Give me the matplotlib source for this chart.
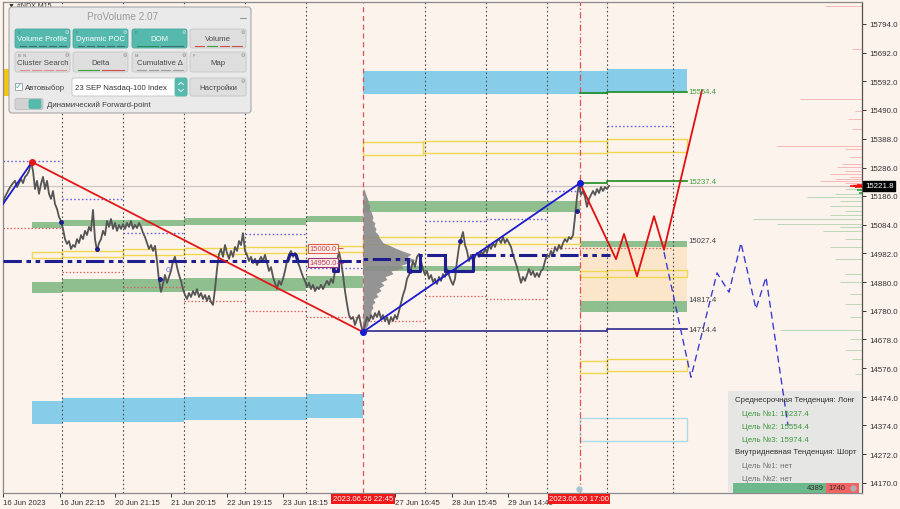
import matplotlib
matplotlib.use("Agg")
import matplotlib.pyplot as plt
import numpy as np
import matplotlib.transforms as mtransforms
from matplotlib.patches import Rectangle, FancyBboxPatch

plt.rcParams['font.family'] = ['Liberation Sans', 'DejaVu Sans']

BG = '#FDF3ED'
TEAL = '#56B9AE'

# ---------------- data ----------------
# M15 price path, sampled every 2 time slots starting at slot 3
price_start = 3
price_step = 2
price = [
    15164, 15182, 15196, 15210, 15221, 15231, 15239, 15217, 15231, 15246, 15231, 15253, 15260, 15274, 15306,
    15274, 15210, 15239, 15193, 15228, 15253, 15210, 15239, 15193, 15175, 15203, 15157, 15140, 15111, 15097,
    15069, 15033, 15016, 15026, 14998, 15012, 15005, 15033, 15019, 15047, 15033, 15062, 15047, 15076, 15062,
    15136, 15033, 14991, 15019, 15033, 15062, 15047, 15097, 15076, 15104, 15069, 15090, 15062, 15083, 15069, 15086,
    15069, 15090, 15076, 15097, 15069, 15083, 15072, 15090, 15076, 15055, 15040, 15019, 14998, 15012, 14991,
    15009, 14955, 14885, 14846, 14874, 14906, 14878, 14899, 14920, 14955, 14970, 14934, 14906, 14885, 14856,
    14835, 14821, 14842, 14828, 14849, 14835, 14856, 14828, 14842, 14821, 14835, 14814, 14832, 14810, 14800,
    14856, 14927, 14980, 14998, 14970, 15012, 14984, 14963, 14991, 14970,
    15005, 14991, 15026, 15012, 15054, 14991, 14977, 14955, 14970, 14948,
    14963, 14941, 14955, 14970, 14955, 14977, 14948, 14920, 14934, 14899,
    14878, 14856, 14885, 14871, 14892, 14920, 14955, 14977, 14991, 14970,
    14984, 14955, 14941, 14920, 14899, 14885, 14863, 14878, 14856, 14871,
    14849, 14863, 14856, 14871, 14856, 14871, 14885, 14871, 14892, 14878,
    14920, 14955, 14987, 14955, 14906, 14849, 14803, 14764, 14750, 14757,
    14729, 14750, 14764, 14729, 14704,
    14729, 14757, 14743, 14764, 14750, 14771, 14757, 14778, 14750, 14764,
    14743, 14757, 14732, 14757, 14743, 14764, 14750, 14778, 14807, 14835,
    14856, 14892, 14906, 14927, 14955, 14934, 14970, 14980, 14955, 14927,
    14906, 14920, 14892, 14906, 14881, 14892, 14874, 14899, 14885, 14909,
    14899, 14927, 14906, 14885, 14871, 14892, 14955, 15005, 15033, 15058,
    15012, 14991, 14955, 14977, 14955, 14970, 14984, 14970, 14991, 14977,
    14998, 14984, 15012, 14998, 15019, 15005, 15026, 15033, 15019, 15040,
    15019, 15033, 15019, 15005, 14977, 14955, 14934, 14906, 14878, 14899,
    14885, 14906, 14927, 14906, 14920, 14899, 14913, 14899, 14920, 14927,
    14955, 14977, 14970, 14991, 14977, 15005, 14991, 15012, 14998, 15019,
    15033, 15023, 15040, 15033, 15047, 15111, 15182, 15231, 15189, 15203,
    15182, 15147, 15175, 15189, 15203, 15189, 15210, 15196, 15217, 15203,
    15217, 15210, 15221,
]
current_price = 15221.8

day_bounds = [62, 123, 184, 245, 306, 425, 486, 547, 607, 673]
session_line = 363
now_line = 580

# zones: (t_start, t_end, low, high)
blue_zones = [(32, 62, 14379, 14459), (62, 184, 14387, 14470), (184, 306, 14393, 14474),
              (306, 363, 14399, 14484), (363, 607, 15548, 15627), (607, 687, 15552, 15636)]
green_zones = [(32, 62, 15071, 15092), (62, 184, 15078, 15100), (184, 306, 15084, 15106),
               (306, 363, 15092, 15114), (363, 580, 15128, 15167),
               (32, 62, 14841, 14880), (62, 184, 14847, 14891), (184, 306, 14850, 14895),
               (306, 363, 14860, 14903), (363, 580, 14919, 14939),
               (580, 687, 15006, 15025), (580, 687, 14774, 14813)]
orange_zones = [(580, 687, 14813, 15006)]
yellow_boxes = [(363, 423, 15331, 15375), (423, 607, 15336, 15380), (607, 687, 15342, 15386),
                (32, 62, 14965, 14986), (62, 123, 14971, 14992), (123, 184, 14975, 14997),
                (184, 245, 14980, 15001), (245, 306, 14983, 15004), (306, 363, 14986, 15007),
                (363, 580, 15017, 15042), (580, 607, 14898, 14921), (607, 687, 14900, 14924),
                (580, 607, 14559, 14603), (607, 687, 14565, 14609)]
cyan_boxes = [(580, 687, 14318, 14400)]
gold_zones = [(3, 10, 15539, 15635)]

# dotted daily levels: (t_start, t_end, price)
blue_dotted = [(3, 62, 15309), (62, 123, 15175), (123, 184, 15054), (245, 306, 15050),
               (306, 363, 14931), (425, 486, 15096), (486, 547, 15103), (547, 580, 15204),
               (607, 673, 15434)]
red_dotted = [(3, 62, 15071), (62, 123, 14918), (123, 184, 14865), (184, 245, 14813),
              (245, 306, 14777), (306, 363, 14758), (363, 425, 14742), (425, 486, 14833),
              (486, 547, 14820), (547, 673, 15000)]

# dynamic POC
poc_t = [3, 363, 363, 408, 408, 420, 420, 445, 445, 473, 473, 610]
poc_p = [14956, 14956, 14962, 14962, 14921, 14921, 14978, 14978, 14921, 14921, 14978, 14978]
poc_solid = [([408, 408, 420, 420], [14962, 14921, 14921, 14978]),
             ([445, 445, 473, 473], [14978, 14921, 14921, 14978]),
             ([288, 290, 296, 298], [14956, 14978, 14978, 14956]),
             ([333, 333, 338, 338], [14956, 14921, 14921, 14956])]

# session volume profile (price level, volume)
vp_price = [15210, 15200, 15190, 15180, 15170, 15160, 15150, 15140, 15130, 15120,
            15110, 15100, 15090, 15080, 15070, 15060, 15050, 15040, 15030, 15020,
            15010, 15000, 14990, 14980, 14970, 14960, 14950, 14940, 14930, 14920,
            14910, 14900, 14890, 14880, 14870, 14860, 14850, 14840, 14830, 14820,
            14810, 14800, 14790, 14780, 14770, 14760, 14750, 14740, 14730, 14720,
            14710, 14705]
vp_vol = [1, 2, 3, 4, 5, 5, 7, 6, 8, 9,
          10, 9, 12, 11, 13, 12, 15, 16, 18, 20,
          27, 33, 40, 48, 44, 52, 46, 38, 40, 28,
          30, 22, 24, 18, 21, 16, 18, 13, 15, 10,
          12, 9, 10, 8, 8, 6, 7, 5, 5, 3,
          3, 1]

# right-edge order-book histogram (price, size)
book_price = [15858, 15706, 15530, 15486, 15458, 15422, 15362, 15352, 15323, 15299, 15288, 15274,
              15263, 15253, 15246, 15239, 15231, 15228,
              15210, 15193, 15182, 15168, 15150, 15132, 15118, 15104, 15086, 15076, 15062, 15033,
              15005, 14962, 14909, 14881, 14839, 14803, 14757, 14711, 14678, 14642, 14609, 14556]
book_size = [37, 10, 62, 7, 14, 10, 85, 17, 12, 20, 25, 17,
             32, 12, 27, 42, 17, 10,
             17, 27, 55, 22, 32, 17, 32, 109, 85, 22, 39, 17,
             32, 27, 17, 22, 12, 17, 12, 82, 12, 17, 10, 7]

# swings / trend lines
trend_blue1_t, trend_blue1_p = [3, 32], [15157, 15306]
trend_red_t, trend_red_p = [32, 363], [15306, 14704]
trend_blue2_t, trend_blue2_p = [363, 580], [14704, 15231]
swing_pts = [(32, 15306, 'red'), (363, 14704, 'blue'), (580, 15231, 'blue')]
navy_dots_t = [61, 97, 160, 410, 460, 577]
navy_dots_p = [15093, 14998, 14892, 14921, 15027, 15131]

# target levels
target_levels = [((580, 607, 687), (15549, 15554.4), '15554.4', 'green'),
                 ((580, 607, 687), (15231, 15237.4), '15237.4', 'green'),
                 ((363, 607, 687), (14707, 14714.4), '14714.4', 'navy')]
zone_labels = [(15027.4, '15027.4'), (14817.4, '14817.4')]

# forecasts
fc_red_t = [580, 616, 624, 637, 654, 664, 702]
fc_red_p = [15231, 14962, 15051, 14901, 15114, 14995, 15560]
fc_blue_t = [664, 691, 717, 729, 741, 756, 766, 788]
fc_blue_p = [14987, 14544, 14913, 14845, 15019, 14786, 14898, 14373]

# axes labels
ytick_vals = [15794, 15692, 15592, 15490, 15388, 15286, 15186, 15084, 14982,
              14880, 14780, 14678, 14576, 14474, 14374, 14272, 14170]
xtick_pos = [3, 59.5, 115, 171, 227, 283, 395, 451.5, 508]
xtick_labels = ['16 Jun 2023', '16 Jun 22:15', '20 Jun 21:15', '21 Jun 20:15', '22 Jun 19:15',
                '23 Jun 18:15', '27 Jun 16:45', '28 Jun 15:45', '29 Jun 14:45']
time_marks = [(363, '2023.06.26 22:45'), (579, '2023.06.30 17:00')]

# ---------------- figure ----------------
fig = plt.figure(figsize=(9, 5.1), dpi=100, facecolor=BG)
ax = fig.add_axes([3 / 900, 16 / 510, 859 / 900, 491 / 510])
ax.set_facecolor(BG)
ax.set_xlim(3, 862)
ax.set_ylim(14134.4, 15871.8)

ov = fig.add_axes([0, 0, 1, 1], zorder=10)
ov.set_xlim(0, 900)
ov.set_ylim(510, 0)
ov.axis('off')
ov.patch.set_alpha(0)


def zone(lst, **kw):
    for t0, t1, lo, hi in lst:
        ax.add_patch(Rectangle((t0, lo), t1 - t0, hi - lo, **kw))


zone(orange_zones, fc='#FBE6CB', ec='none', zorder=1)
zone(green_zones, fc='#8FBE8F', ec='none', zorder=1.1)
zone(blue_zones, fc='#87CDEA', ec='none', zorder=1.1)
zone(gold_zones, fc='#F2C80F', ec='none', zorder=1.1)
zone(yellow_boxes, fc='none', ec='#F0D84C', lw=1.0, zorder=1.3)
zone(cyan_boxes, fc='none', ec='#A9DCE8', lw=1.0, zorder=1.3)

y0, y1 = ax.get_ylim()
ax.vlines(day_bounds, y0, y1, colors='#505050', linestyles=(0, (1.5, 2.2)), lw=0.8, zorder=2)
ax.vlines([session_line], y0, y1, colors='#E05050', linestyles=(0, (4, 3)), lw=0.9, zorder=2)
ax.vlines([now_line], y0, y1, colors='#E05050', linestyles=(0, (5, 2, 1, 2)), lw=0.9, zorder=2)
ax.axhline(current_price, color='#CBC6C3', lw=0.9, zorder=1.8)

for t0, t1, p in blue_dotted:
    ax.hlines(p, t0, t1, colors='#6A6AE0', linestyles=(0, (1.2, 1.6)), lw=1.0, zorder=2.2)
for t0, t1, p in red_dotted:
    ax.hlines(p, t0, t1, colors='#E06060', linestyles=(0, (1.2, 1.6)), lw=0.9, zorder=2.2)

# session volume profile
ax.fill_betweenx(vp_price, session_line, session_line + np.array(vp_vol), color='#8A8A8A',
                 alpha=0.9, lw=0, zorder=3)

# price path
price_t = price_start + price_step * np.arange(len(price))
ax.plot(price_t, price, color='#555555', lw=1.3, zorder=4)

# POC
ax.plot(poc_t, poc_p, color='#1E1E8E', lw=2.2, dashes=(6, 1.5, 1.5, 1.5, 1.5, 1.5), zorder=5)
for tt, pp in poc_solid:
    ax.plot(tt, pp, color='#1E1E8E', lw=2.2, zorder=5)

# trend lines
ax.plot(trend_blue1_t, trend_blue1_p, color='#1A1AD0', lw=1.3, zorder=6)
ax.plot(trend_red_t, trend_red_p, color='#E01818', lw=1.3, zorder=6)
ax.plot(trend_blue2_t, trend_blue2_p, color='#1A1AD0', lw=1.3, zorder=6)
for t, p, c in swing_pts:
    ax.plot(t, p, 'o', color='#E01818' if c == 'red' else '#1A1AD0', ms=4, zorder=7)
ax.plot(navy_dots_t, navy_dots_p, 'o', color='#1E1E8E', ms=2.5, zorder=7)
ax.text(168, 14927, '0', color='#7070E0', fontsize=6, ha='center', va='center', zorder=6)

# target levels
for (ta, tb, tc), (pa, pb), lab, kind in target_levels:
    col = '#1E8A1E' if kind == 'green' else '#2A2A8A'
    ax.plot([ta, tb, tb, tc], [pa, pa, pb, pb], color=col, lw=1.2, zorder=6)
    ax.text(tc + 1.5, pb, lab, fontsize=5.6, va='center', ha='left',
            color='#44A044' if kind == 'green' else '#404040', zorder=8)
for p, lab in zone_labels:
    ax.text(688.5, p, lab, fontsize=5.6, va='center', ha='left', color='#404040', zorder=8)

# price tags
for p, lab, ec, tc in [(15000, '15000.0', '#E06050', '#D04040'), (14950, '14950.0', '#A03070', '#C83050')]:
    ax.text(309.5, p, lab, fontsize=5.5, va='center', ha='left', color=tc, zorder=8,
            bbox=dict(boxstyle='square,pad=0.15', fc=BG, ec=ec, lw=0.8))
    ax.hlines(p, 337, 343, colors=ec, lw=0.8, zorder=8)

# forecasts
ax.plot(fc_red_t, fc_red_p, color='#E01010', lw=1.3, zorder=6)
ax.plot(fc_blue_t, fc_blue_p, color='#3C3CD0', lw=1.0, dashes=(5, 3), zorder=6)

# order book histogram at the right edge
for p, s in zip(book_price, book_size):
    col = '#F08080' if p > current_price else '#7DBB7D'
    ax.hlines(p, 862 - s, 862, colors=col, lw=0.7, alpha=0.5, zorder=3)
ax.hlines([15216, 15219, 15222, 15225], [855, 850, 853, 857], 862, colors='#F01010', lw=1.2, zorder=3)
ax.hlines([15205, 15195], [857, 859], 862, colors='#20A040', lw=1.2, zorder=3)

# axes styling
for s in ax.spines.values():
    s.set_color('#8A8A8A')
    s.set_linewidth(0.9)
ax.spines['right'].set_color('#505050')
ax.yaxis.tick_right()
ax.set_yticks(ytick_vals)
ax.set_yticklabels([f'{v:.1f}' for v in ytick_vals])
ax.tick_params(axis='y', direction='out', length=3, width=0.7, pad=2, labelsize=5.7,
               colors='#333333')
ax.set_xticks(xtick_pos)
ax.set_xticklabels(xtick_labels, ha='left')
ax.tick_params(axis='x', direction='out', length=3, width=0.7, pad=1.5, labelsize=5.6,
               colors='#333333')

trans_r = mtransforms.blended_transform_factory(ax.transAxes, ax.transData)
ax.text(1.0035, current_price, f'{current_price:.1f}', transform=trans_r, ha='left', va='center',
        fontsize=5.7, color='white', clip_on=False, zorder=20,
        bbox=dict(boxstyle='square,pad=0.2', fc='black', ec='black'))
trans_b = mtransforms.blended_transform_factory(ax.transData, ax.transAxes)
for t, lab in time_marks:
    ax.text(t, -0.0045, lab, transform=trans_b, ha='center', va='top', fontsize=5.6,
            color='white', clip_on=False, zorder=20,
            bbox=dict(boxstyle='square,pad=0.18', fc='#F01818', ec='none'))
ax.plot(579, 14149, 'o', color='#A8C4D0', ms=3.5, zorder=6)

# ---- info panel (bottom right) ----
ax.add_patch(Rectangle((728, 392), 134, 102, transform=ov.transData, fc='#E5E5E4', ec='none',
                       alpha=0.93, zorder=5.5))
ax.add_patch(Rectangle((733, 484), 93, 10, transform=ov.transData, fc='#6DB98B', ec='none', zorder=7))
ax.add_patch(Rectangle((826, 484), 33, 10, transform=ov.transData, fc='#F06464', ec='none', zorder=7))
info_lines = [(735, 401, 'Среднесрочная Тенденция: Лонг', '#303030'),
              (742, 414, 'Цель №1: 15237.4', '#3E9A3E'),
              (742, 427, 'Цель №2: 15554.4', '#3E9A3E'),
              (742, 440, 'Цель №3: 15974.4', '#3E9A3E'),
              (735, 453, 'Внутридневная Тенденция: Шорт', '#303030'),
              (742, 466, 'Цель №1: нет', '#707070'),
              (742, 479, 'Цель №2: нет', '#707070')]
for x, y, s, c in info_lines:
    ax.text(x, y, s, transform=ov.transData, fontsize=5.7, color=c, ha='left', va='center', zorder=8)
ax.text(824, 489, '4389', transform=ov.transData, fontsize=5.5, color='#303030', ha='right',
        va='center', zorder=8)
ax.text(828, 489, '1740', transform=ov.transData, fontsize=5.5, color='#303030', ha='left',
        va='center', zorder=8)
ax.plot([853], [489], 'o', transform=ov.transData, color='#B0B0B0', ms=3.5, zorder=8)

# ---- ProVolume panel (top left) ----
ov.text(8, 2, '▼ #NDX,M15', fontsize=5, color='#303030', ha='left', va='top', zorder=19)
ov.add_patch(FancyBboxPatch((9, 8), 242, 106, boxstyle='round,pad=0,rounding_size=3',
                            fc='#EAEAEA', ec='#A9A9A9', lw=0.8, zorder=20))
ov.text(123, 17, 'ProVolume 2.07', fontsize=7.2, color='#9A9A9A', ha='center', va='center', zorder=21)
ov.plot([240, 246], [19, 19], color='#9A9A9A', lw=0.8, zorder=21)


def button(x, y, w, h, label, active, key=None, marks=None):
    fc = TEAL if active else '#DEDEDE'
    ec = '#4AA99E' if active else '#C6C6C6'
    ov.add_patch(FancyBboxPatch((x, y), w, h, boxstyle='round,pad=0,rounding_size=2',
                                fc=fc, ec=ec, lw=0.6, zorder=21))
    ov.text(x + w / 2, y + h * 0.52, label, ha='center', va='center', fontsize=5.6,
            color='white' if active else '#474747', zorder=22)
    if key:
        ov.text(x + 3, y + 2.6, key, fontsize=3, color='#3C7F78' if active else '#777777',
                ha='left', va='center', zorder=22)
    ov.text(x + w - 3, y + 2.6, '⚙', fontsize=3.5, color='#E8E8E8' if active else '#888888',
            ha='center', va='center', zorder=22)
    if marks:
        n = len(marks)
        seg = (w - 6) / n
        for i, c in enumerate(marks):
            xa = x + 3 + i * seg
            ov.plot([xa + 1.5, xa + seg - 1.5], [y + h - 2, y + h - 2], color=c, lw=0.8, zorder=22)


button(15, 30, 55, 19, 'Volume Profile', True, 'V', ['#3F6F6A'] * 5)
button(73, 30, 55, 19, 'Dynamic POC', True, 'F', ['#3F6F6A'] * 5)
button(132, 30, 55, 19, 'DOM', True, 'D', ['#2E8B57', '#3F6F6A'])
button(190, 30, 56, 19, 'Volume', False, None, ['#D05050', '#40A040', '#D05050', '#D05050'])
button(15, 53, 55, 20, 'Cluster Search', False, 'B  N', ['#E09090'] * 4)
button(73, 53, 55, 20, 'Delta', False, None, ['#40A040', '#D05050'])
button(132, 53, 55, 20, 'Cumulative Δ', False, 'M', ['#A0A0A0'] * 4)
button(190, 53, 56, 20, 'Map', False, 'F')

# checkbox
ov.add_patch(Rectangle((15, 84), 7, 7, fc='white', ec='#9A9A9A', lw=0.6, zorder=21))
ov.text(18.5, 86, '✓', fontsize=6.5, color=TEAL, ha='center', va='center', zorder=22)
ov.text(25, 88, 'Автовыбор', fontsize=5.7, color='#404040', ha='left', va='center', zorder=22)
# combobox
ov.add_patch(FancyBboxPatch((72, 79), 115, 18, boxstyle='round,pad=0,rounding_size=2',
                            fc='white', ec='#C0C0C0', lw=0.6, zorder=21))
ov.add_patch(FancyBboxPatch((175, 79), 12, 18, boxstyle='round,pad=0,rounding_size=2',
                            fc=TEAL, ec=TEAL, lw=0.6, zorder=21))
ov.plot([178.5, 181, 183.5], [85.5, 83.5, 85.5], color='white', lw=0.7, zorder=22)
ov.plot([178.5, 181, 183.5], [90.5, 92.5, 90.5], color='white', lw=0.7, zorder=22)
ov.text(75, 88.5, '23 SEP Nasdaq-100 Index', fontsize=5.6, color='#303030', ha='left',
        va='center', zorder=22)
button(190, 79, 56, 18, 'Настройки', False)
# toggle
ov.add_patch(FancyBboxPatch((15, 99.5), 28, 11, boxstyle='round,pad=0,rounding_size=2',
                            fc='#D2D2D2', ec='#BDBDBD', lw=0.6, zorder=21))
ov.add_patch(FancyBboxPatch((29, 100.5), 12, 9, boxstyle='round,pad=0,rounding_size=1.5',
                            fc=TEAL, ec=TEAL, lw=0.6, zorder=22))
ov.text(47, 105.5, 'Динамический Forward-point', fontsize=5.7, color='#404040', ha='left',
        va='center', zorder=22)

fig.savefig('out.png', dpi=100, facecolor=BG)
